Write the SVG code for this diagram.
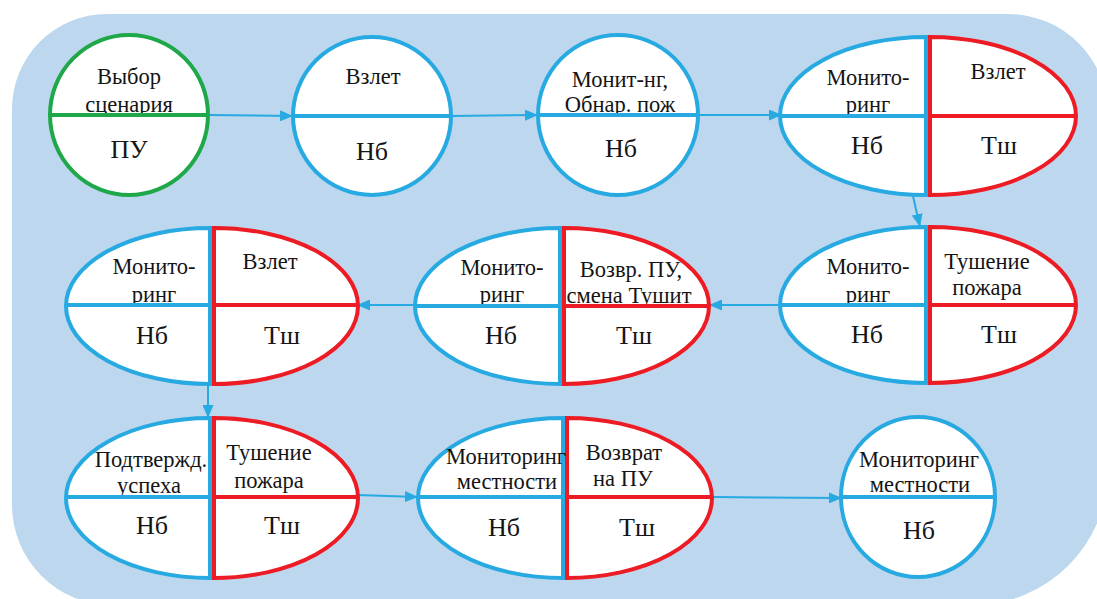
<svg xmlns="http://www.w3.org/2000/svg" width="1097" height="599" viewBox="0 0 1097 599">
  <style>
    .bg { fill: #BDD7EE; }
    .blue { fill: #FFFFFF; stroke: #27A9E1; stroke-width: 4; }
    .red { fill: #FFFFFF; stroke: #ED1C24; stroke-width: 4; }
    .green { fill: #FFFFFF; stroke: #1FA84A; stroke-width: 4; }
    .lb { stroke: #27A9E1; stroke-width: 4; }
    .lr { stroke: #ED1C24; stroke-width: 4; }
    .lg { stroke: #1FA84A; stroke-width: 4; }
    .conn { stroke: #27A9E1; stroke-width: 2; fill: none; marker-end: url(#arrow); }
    text { font-family: "Liberation Serif", "Times New Roman", serif; fill: #141414; text-anchor: middle; }
    .t { font-size: 22.5px; }
    .b { font-size: 26px; }
  </style>
  <defs>
    <marker id="arrow" markerUnits="userSpaceOnUse" markerWidth="13" markerHeight="11" refX="13" refY="5.5" orient="auto">
      <path d="M0,0 L13,5.5 L0,11 Z" fill="#27A9E1"/>
    </marker>
  </defs>
  <rect width="1097" height="599" fill="#FFFFFF"/>
  <path class="bg" d="M107,14 H1008 A100,100 0 0 1 1108,114 V470 A135,135 0 0 1 973,605 H112 A100,100 0 0 1 12,505 V109 A95,95 0 0 1 107,14 Z"/>

  <g id="connectors">
    <line class="conn" x1="209" y1="115" x2="293" y2="116"/>
    <line class="conn" x1="451" y1="116" x2="538" y2="115"/>
    <line class="conn" x1="698" y1="115" x2="782" y2="115"/>
    <line class="conn" x1="913" y1="196" x2="920" y2="227"/>
    <line class="conn" x1="782" y1="305" x2="709" y2="305"/>
    <line class="conn" x1="416" y1="305" x2="357" y2="305"/>
    <line class="conn" x1="208" y1="384" x2="208" y2="418"/>
    <line class="conn" x1="357" y1="495" x2="418" y2="497"/>
    <line class="conn" x1="713" y1="497" x2="842" y2="498"/>
  </g>

  <g id="n1">
    <ellipse class="green" cx="129" cy="115" rx="79" ry="80"/>
    <text class="t" x="129" y="84">Выбор</text>
    <text class="t" x="129" y="112">сценария</text>
    <line class="lg" x1="50" y1="115" x2="208" y2="115"/>
    <text class="b" x="129" y="158">ПУ</text>
  </g>

  <g id="n2">
    <ellipse class="blue" cx="372" cy="116" rx="79" ry="79"/>
    <text class="t" x="373" y="84">Взлет</text>
    <line class="lb" x1="293" y1="116" x2="451" y2="116"/>
    <text class="b" x="372" y="160">Нб</text>
  </g>

  <g id="n3">
    <ellipse class="blue" cx="618" cy="115" rx="80" ry="80"/>
    <text class="t" x="620" y="87">Монит-нг,</text>
    <text class="t" x="620" y="112">Обнар. пож</text>
    <line class="lb" x1="538" y1="115" x2="698" y2="115"/>
    <text class="b" x="621" y="157">Нб</text>
  </g>

  <g id="n4">
    <path class="blue" d="M926,37 A146,79 0 0 0 926,195 Z"/>
    <path class="red" d="M930,37 A146,79 0 0 1 930,195 Z"/>
    <text class="t" x="868" y="85">Монито-</text>
    <text class="t" x="868" y="112">ринг</text>
    <text class="t" x="998" y="79">Взлет</text>
    <line class="lb" x1="780" y1="116" x2="926" y2="116"/>
    <line class="lr" x1="930" y1="116" x2="1076" y2="116"/>
    <text class="b" x="867" y="154">Нб</text>
    <text class="b" x="999" y="154">Тш</text>
  </g>

  <g id="n5">
    <path class="blue" d="M926,227 A146,78 0 0 0 926,383 Z"/>
    <path class="red" d="M930,227 A146,78 0 0 1 930,383 Z"/>
    <text class="t" x="868" y="274">Монито-</text>
    <text class="t" x="868" y="302">ринг</text>
    <text class="t" x="987" y="269">Тушение</text>
    <text class="t" x="987" y="295">пожара</text>
    <line class="lb" x1="780" y1="305" x2="926" y2="305"/>
    <line class="lr" x1="930" y1="305" x2="1076" y2="305"/>
    <text class="b" x="867" y="343">Нб</text>
    <text class="b" x="999" y="343">Тш</text>
  </g>

  <g id="n6">
    <path class="blue" d="M560,228 A145,78 0 0 0 560,384 Z"/>
    <path class="red" d="M564,228 A145,78 0 0 1 564,384 Z"/>
    <text class="t" x="502" y="275">Монито-</text>
    <text class="t" x="502" y="302">ринг</text>
    <text class="t" x="631" y="277">Возвр. ПУ,</text>
    <text class="t" x="629" y="303">смена Тушит</text>
    <line class="lb" x1="415" y1="306" x2="560" y2="306"/>
    <line class="lr" x1="564" y1="306" x2="709" y2="306"/>
    <text class="b" x="501" y="344">Нб</text>
    <text class="b" x="634" y="344">Тш</text>
  </g>

  <g id="n7">
    <path class="blue" d="M210,228 A144,78 0 0 0 210,384 Z"/>
    <path class="red" d="M214,228 A144,78 0 0 1 214,384 Z"/>
    <text class="t" x="154" y="274">Монито-</text>
    <text class="t" x="154" y="302">ринг</text>
    <text class="t" x="270" y="269">Взлет</text>
    <line class="lb" x1="66" y1="305" x2="210" y2="305"/>
    <line class="lr" x1="214" y1="305" x2="358" y2="305"/>
    <text class="b" x="152" y="344">Нб</text>
    <text class="b" x="282" y="344">Тш</text>
  </g>

  <g id="n8">
    <path class="blue" d="M210,418 A144,80 0 0 0 210,578 Z"/>
    <path class="red" d="M214,418 A144,80 0 0 1 214,578 Z"/>
    <text class="t" x="151" y="467">Подтвержд.</text>
    <text class="t" x="149" y="493">успеха</text>
    <text class="t" x="269" y="460">Тушение</text>
    <text class="t" x="269" y="488">пожара</text>
    <line class="lb" x1="66" y1="497" x2="210" y2="497"/>
    <line class="lr" x1="214" y1="497" x2="358" y2="497"/>
    <text class="b" x="152" y="534">Нб</text>
    <text class="b" x="282" y="534">Тш</text>
  </g>

  <g id="n9">
    <path class="blue" d="M563,418 A145,80 0 0 0 563,578 Z"/>
    <path class="red" d="M567,418 A145,80 0 0 1 567,578 Z"/>
    <text class="t" x="506" y="464">Мониторинг</text>
    <text class="t" x="507" y="489">местности</text>
    <text class="t" x="624" y="460">Возврат</text>
    <text class="t" x="623" y="486">на ПУ</text>
    <line class="lb" x1="418" y1="497" x2="563" y2="497"/>
    <line class="lr" x1="567" y1="497" x2="712" y2="497"/>
    <text class="b" x="504" y="536">Нб</text>
    <text class="b" x="637" y="536">Тш</text>
  </g>

  <g id="n10">
    <ellipse class="blue" cx="918" cy="497" rx="77" ry="80"/>
    <text class="t" x="919" y="467">Мониторинг</text>
    <text class="t" x="920" y="492">местности</text>
    <line class="lb" x1="841" y1="497" x2="995" y2="497"/>
    <text class="b" x="919" y="539">Нб</text>
  </g>
</svg>
